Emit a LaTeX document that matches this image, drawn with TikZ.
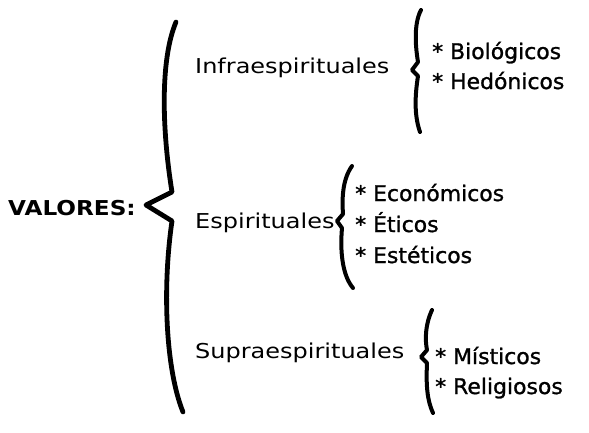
\documentclass[tikz,border=0pt]{standalone}
\usepackage{fontspec}
\setmainfont{DejaVu Sans}
\newfontfamily\lblfont{DejaVu Sans}[FakeStretch=1.17]
\newfontfamily\valfont{DejaVu Sans Bold}[FakeStretch=1.13]
\newfontfamily\itemfont{DejaVu Sans}[FakeBold=1.2,FakeStretch=1.02]
\begin{document}
\begin{tikzpicture}[x=1pt,y=-1pt,
  lbl/.style={anchor=base west,inner sep=0pt,font=\lblfont\fontsize{20.5}{24}\selectfont},
  item/.style={anchor=base west,inner sep=0pt,font=\itemfont\fontsize{21.5}{24}\selectfont},
  bigbrace/.style={line width=4.8pt,line cap=round,line join=round},
  smallbrace/.style={line width=4pt,line cap=round,line join=round}]
\useasboundingbox (0,0) rectangle (589,432);
\node[anchor=base west,inner sep=0pt,font=\valfont\fontsize{20.5}{23}\selectfont] (valores) at (8,215) {VALORES:};
\node[lbl] (infra) at (195,73) {Infraespirituales};
\node[lbl] (espi) at (195,228) {Espirituales};
\node[lbl] (supra) at (195,358) {Supraespirituales};
\node[item] (bio) at (432,59) {* Biológicos};
\node[item] (hed) at (432,89) {* Hedónicos};
\node[item] (eco) at (355,201) {* Económicos};
\node[item] (eti) at (355,232) {* Éticos};
\node[item] (est) at (355,263) {* Estéticos};
\node[item] (mis) at (435,364) {* Místicos};
\node[item] (rel) at (435,394) {* Religiosos};
\draw[bigbrace] (176,22) .. controls (160,60) and (162,130) .. (172,192) -- (146,205) -- (172,221) .. controls (162,290) and (166,370) .. (183,412);
\draw[smallbrace] (421,10) .. controls (413,25) and (416,50) .. (418,62) -- (412,70) -- (418,76) .. controls (415,95) and (414,115) .. (420,132);
\draw[smallbrace] (352,166) .. controls (342,180) and (342,200) .. (343,214) -- (337,221) -- (342,228) .. controls (340,250) and (342,275) .. (353,288);
\draw[smallbrace] (432,310) .. controls (425,325) and (425,340) .. (427,350) -- (421,357) -- (427,363) .. controls (426,385) and (427,400) .. (433,413);
\end{tikzpicture}
\end{document}
